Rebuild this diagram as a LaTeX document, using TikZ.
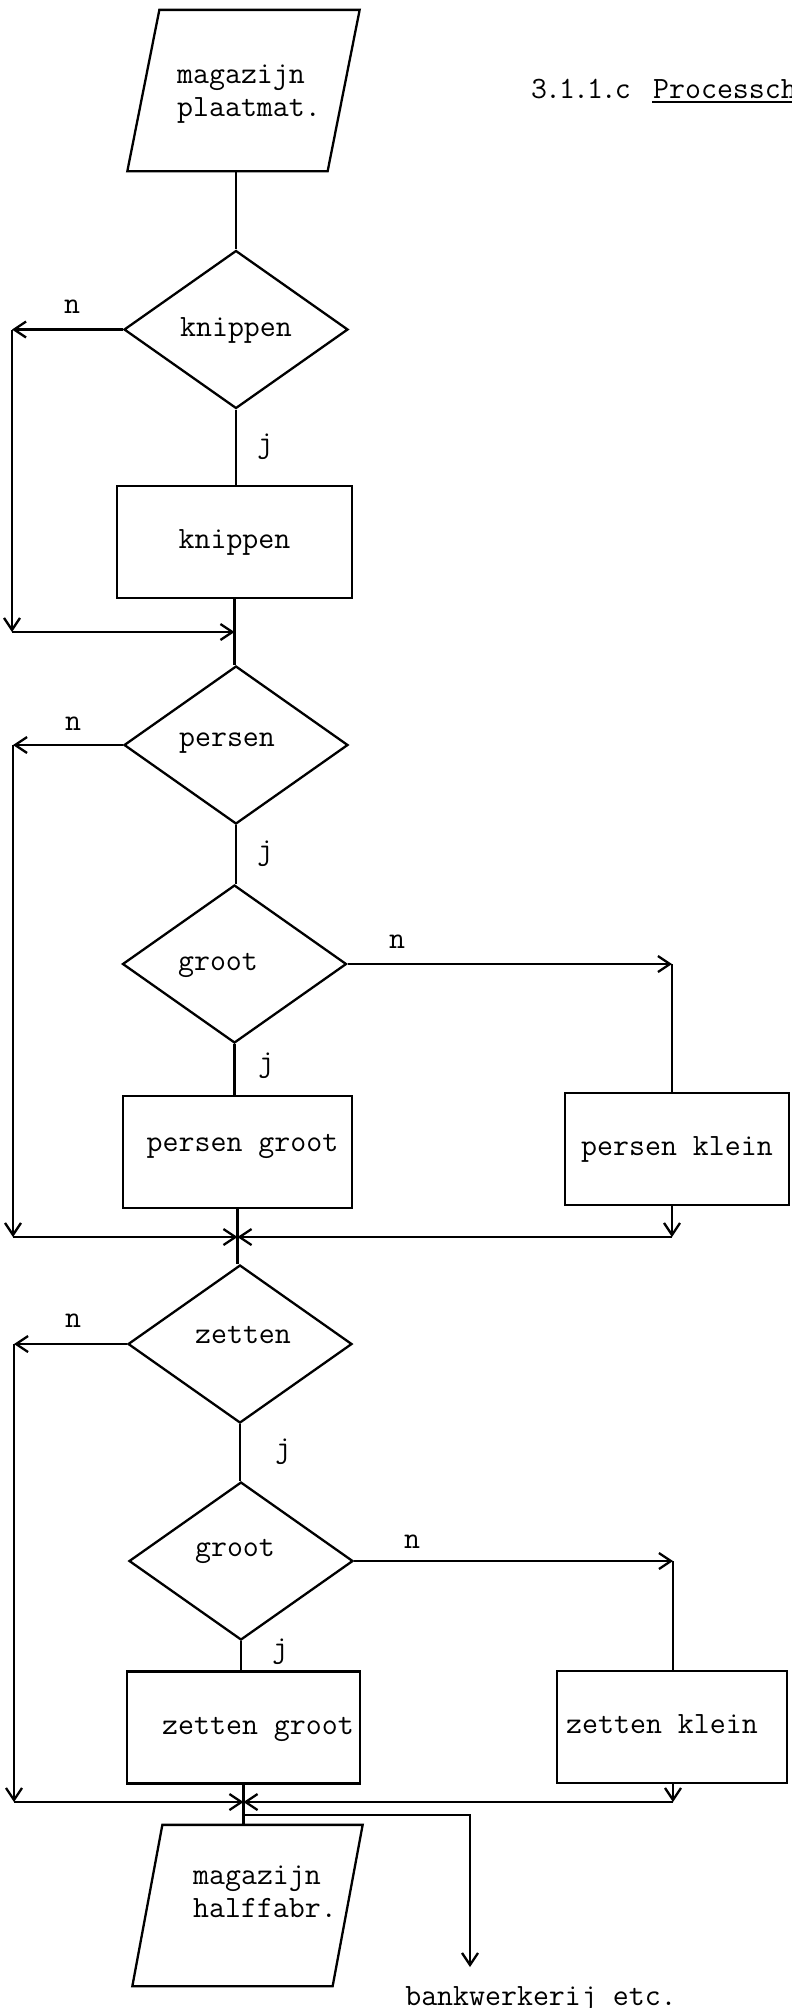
\documentclass[tikz,border=0pt]{standalone}
\usepackage{fontspec}
\usetikzlibrary{shapes.geometric,arrows.meta}
% move the glyphs of a node text: #1 = twice the horizontal shift, #2 = raise
\newcommand\txtshift[3]{\hspace*{#1}\raisebox{#2}{#3}}

\begin{document}
\begin{tikzpicture}[x=1pt,y=-1pt,
  line width=2.3pt,
  every node/.style={font=\fontsize{31}{33}\selectfont\ttfamily\addfontfeatures{FakeBold=1.5},
                     inner sep=0pt},
  decision/.style={diamond, draw, minimum width=224pt, minimum height=158pt,
                   text height=20pt, text depth=7pt},
  procbox/.style={rectangle, draw, minimum height=112pt,
                  text height=20pt, text depth=7pt},
  store/.style={rectangle, minimum width=198pt, minimum height=159pt},
  lbl/.style={anchor=base},
  arr/.style={-{Straight Barb[length=12pt,width=16pt]}},
]
\fill[white] (0,0) rectangle (792,2008);
\useasboundingbox (0,0) rectangle (792,2008);

% heading
\node[anchor=base west] (tnum) at (530,98)
  {3\kern-2pt.\kern-2pt1\kern-2pt.\kern-2pt1\kern-2pt.\kern-2pt c};
\node[anchor=base west] (ttl) at (652,98) {Processch};
\draw[line width=1.8pt] ([yshift=-4pt]ttl.base west) -- ([yshift=-4pt]ttl.base east);

% store: sheet material
\node[store] (p1) at (243.5,90.5) {};
\draw ([xshift=16pt]p1.north west) -- ([xshift=16pt]p1.north east)
   -- ([xshift=-16pt]p1.south east) -- ([xshift=-16pt]p1.south west) -- cycle;
\node[align=left, anchor=west] (p1t) at (176,94) {magazijn\\plaatmat.};

% cutting
\node[decision] (d1) at (236,329.5) {knippen};
\draw (p1.south -| d1.north) -- (d1.north);
\draw[arr] (d1.west) -- (d1.west -| 12,0) coordinate (l1a);
\node[lbl] (n1) at (72,313) {n};

\node[procbox, minimum width=235pt] (kr) at (234.5,542) {knippen};
\draw (d1.south) -- (d1.south |- kr.north);
\node[lbl] (j1) at (265,452) {j};

\coordinate (m1) at (kr.south |- 0,632);
\draw[arr] (l1a) -- (l1a |- m1) coordinate (l1b);
\draw[arr] (l1b) -- (m1);

% pressing
\node[decision] (d2) at (236,745) {\txtshift{-18pt}{5pt}{persen}};
\draw (kr.south) -- (kr.south |- d2.north);
\draw[arr] (d2.west) -- (d2.west -| 13,0) coordinate (l2a);
\node[lbl] (n2) at (73,730) {n};

\node[decision] (g1) at (234.5,964) {\txtshift{-33pt}{0pt}{groot}};
\draw (d2.south) -- (d2.south |- g1.north);
\node[lbl] (j2) at (265,859) {j};
\draw[arr] (g1.east) -- (g1.east -| 672,0) coordinate (r1a);
\node[lbl] (n3) at (397,948) {n};

\node[procbox, minimum width=229pt] (pg) at (237.5,1152) {\txtshift{10pt}{7pt}{persen groot}};
\draw (g1.south) -- (g1.south |- pg.north);
\node[lbl] (j3) at (266,1071) {j};

\node[procbox, minimum width=224pt] (pk) at (677,1149) {persen klein};
\draw (r1a) -- (r1a |- pk.north);

\coordinate (m2) at (pg.south |- 0,1237);
\draw[arr] (l2a) -- (l2a |- m2) coordinate (l2b);
\draw[arr] (l2b) -- (m2);
\draw[arr] (r1a |- pk.south) -- (r1a |- m2) coordinate (r1b);
\draw[arr] (r1b) -- (m2);

% bending
\node[decision] (d3) at (240,1344) {\txtshift{6pt}{7pt}{zetten}};
\draw (pg.south) -- (pg.south |- d3.north);
\draw[arr] (d3.west) -- (d3.west -| 14,0) coordinate (l3a);
\node[lbl] (n4) at (73,1327) {n};

\node[decision] (g2) at (241,1561) {\txtshift{-12pt}{11pt}{groot}};
\draw (d3.south) -- (d3.south |- g2.north);
\node[lbl] (j4) at (283,1457) {j};
\draw[arr] (g2.east) -- (g2.east -| 673,0) coordinate (r2a);
\node[lbl] (n5) at (412,1548) {n};

\node[procbox, minimum width=233pt] (zg) at (243.5,1727.5) {\txtshift{29pt}{0pt}{zetten groot}};
\draw (g2.south) -- (g2.south |- zg.north);
\node[lbl] (j5) at (280,1657) {j};

\node[procbox, minimum width=230pt] (zk) at (672,1727) {\txtshift{-20pt}{0pt}{zetten klein}};
\draw (r2a) -- (r2a |- zk.north);

\coordinate (m3) at (zg.south |- 0,1802);
\draw[arr] (l3a) -- (l3a |- m3) coordinate (l3b);
\draw[arr] (l3b) -- (m3);
\draw[arr] (r2a |- zk.south) -- (r2a |- m3) coordinate (r2b);
\draw[arr] (r2b) -- (m3);

% store: semi-finished products
\node[store] (p2) at (247.5,1905.5) {};
\draw ([xshift=15pt]p2.north west) -- ([xshift=15pt]p2.north east)
   -- ([xshift=-15pt]p2.south east) -- ([xshift=-15pt]p2.south west) -- cycle;
\node[align=left, anchor=west] (p2t) at (192,1892) {magazijn\\halffabr.};
\draw (zg.south) -- (zg.south |- p2.north);

% onward to the bench work
\coordinate (b0) at (zg.south |- 0,1815);
\coordinate (b1) at (470,1967);
\draw[arr] (b0) -| (b1);
\node[lbl] (bw) at (541,2005) {bankwerkerij etc.};
\end{tikzpicture}
\end{document}
